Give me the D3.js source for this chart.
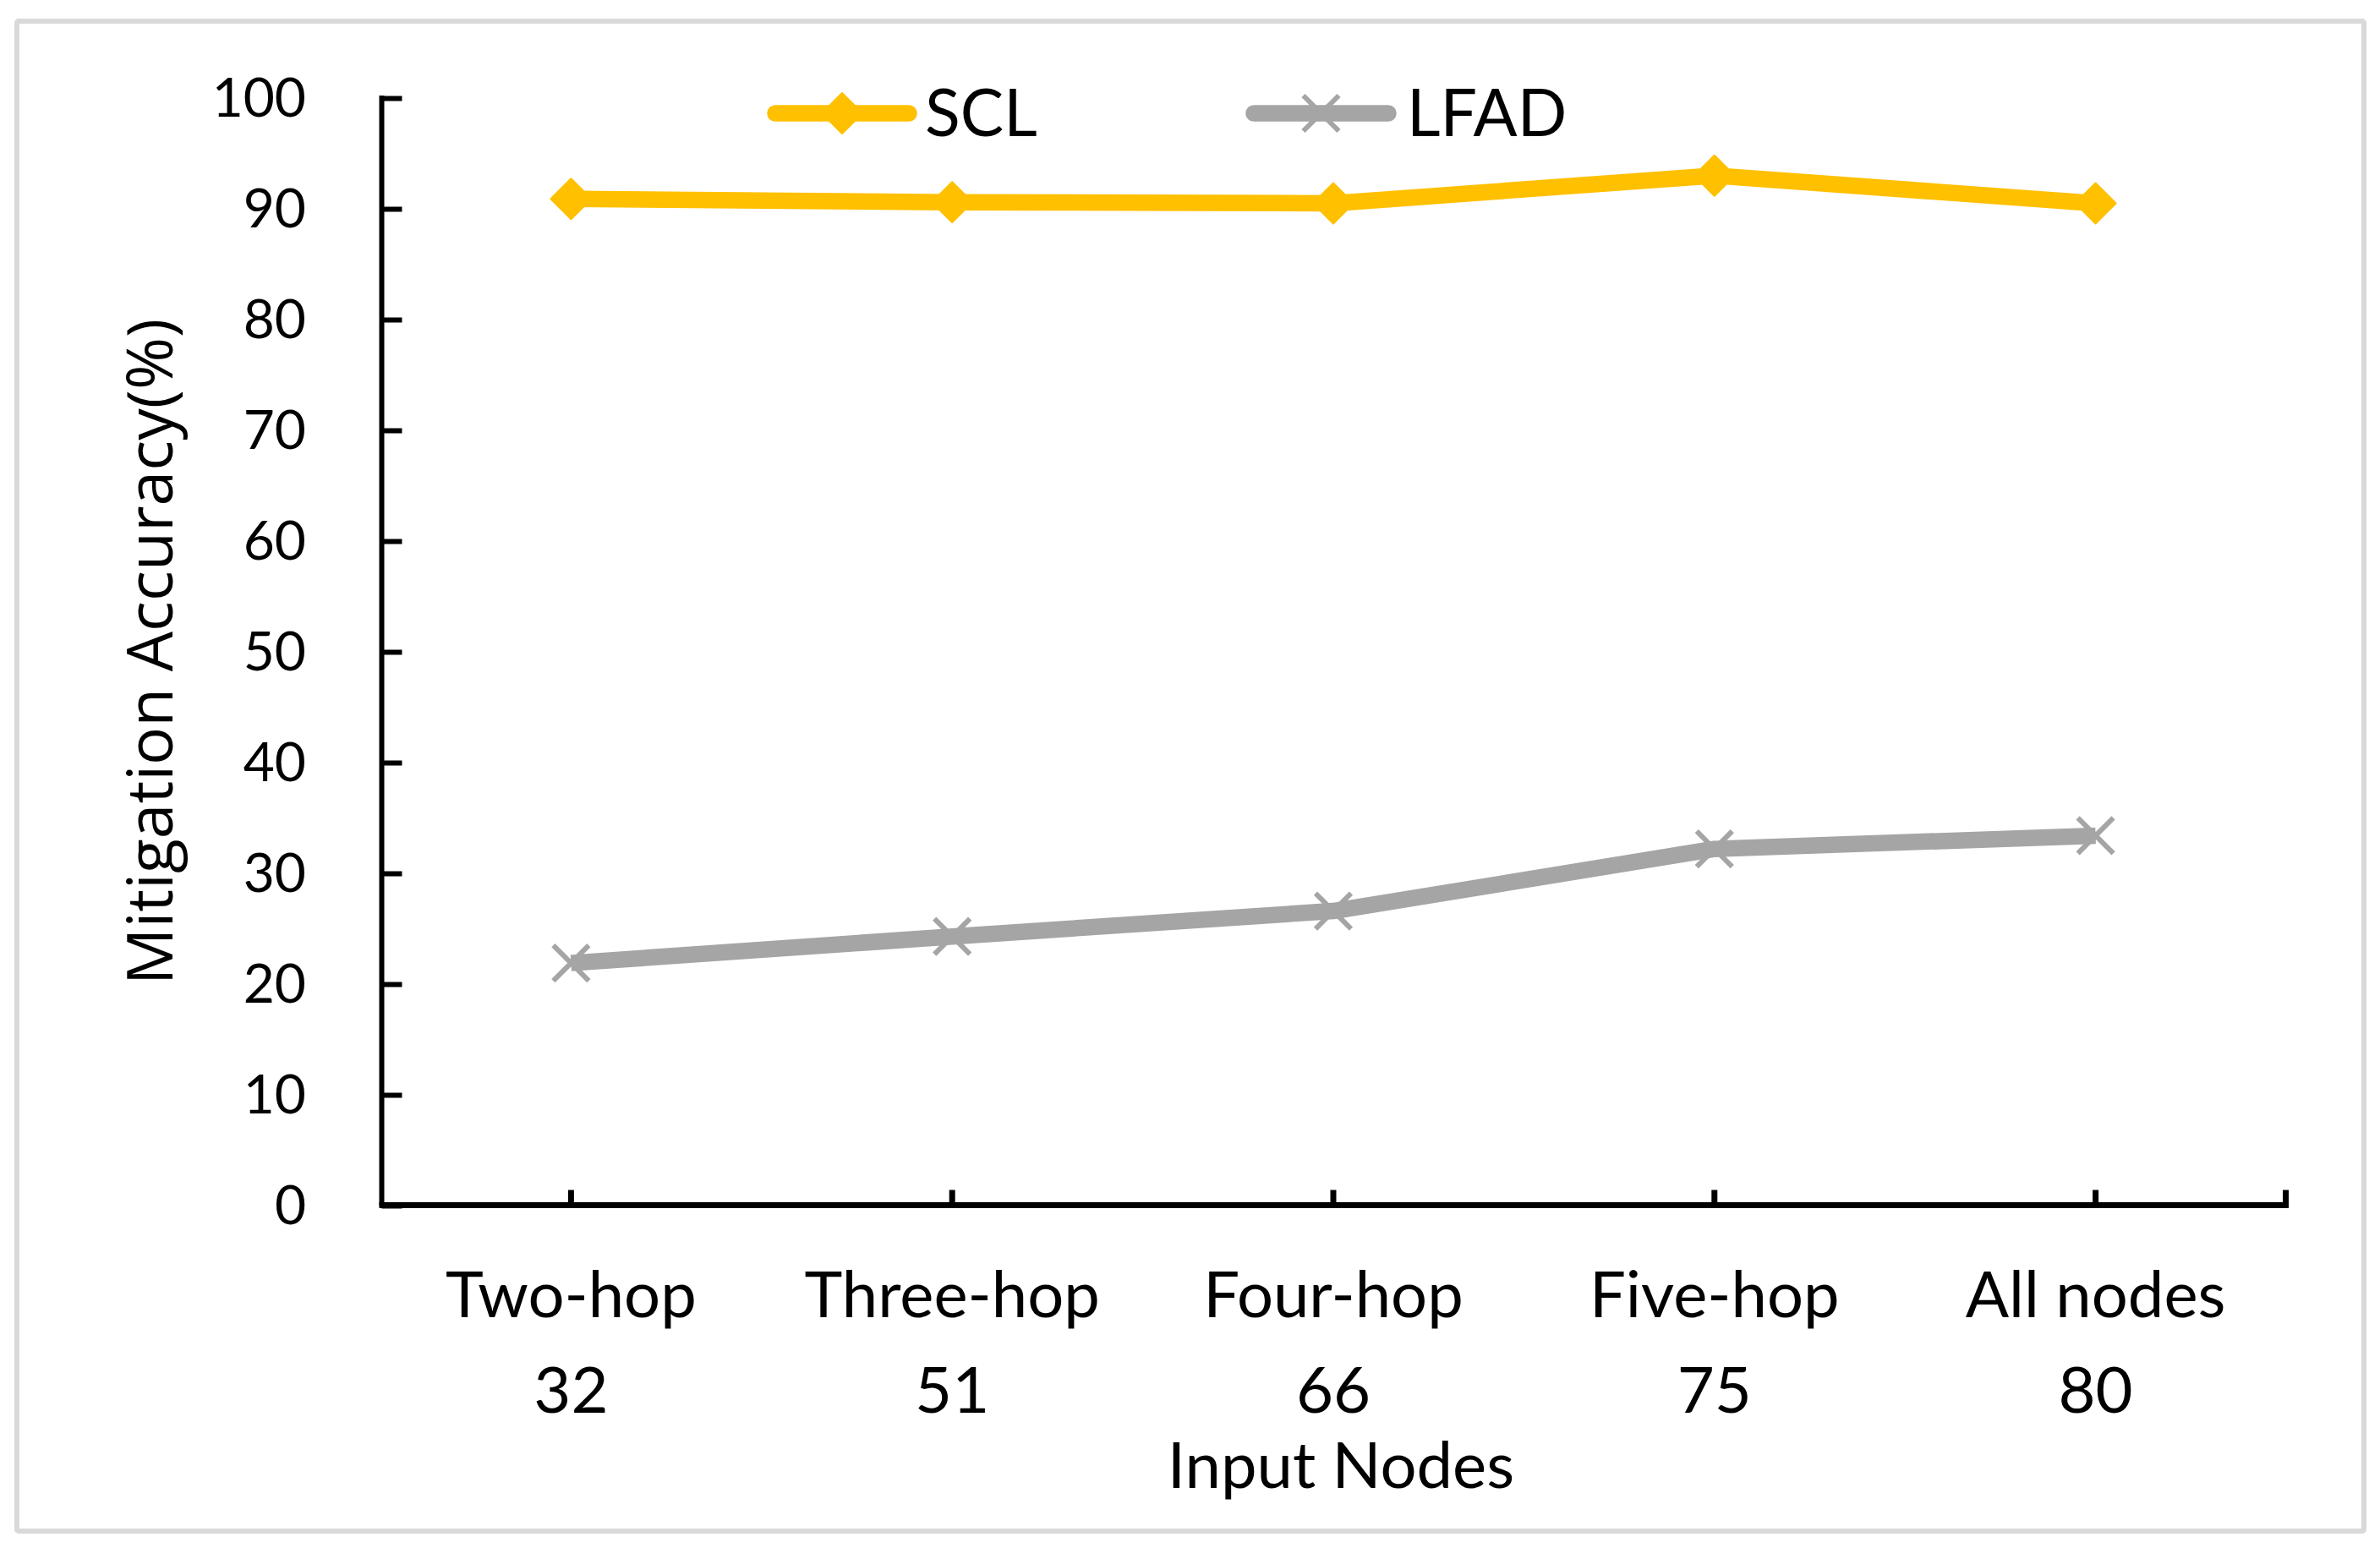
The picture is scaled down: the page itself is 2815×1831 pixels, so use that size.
<!DOCTYPE html>
<html>
<head>
<meta charset="utf-8">
<script src="https://cdn.jsdelivr.net/npm/d3@7"></script>
<style>
  html, body { margin: 0; padding: 0; background: #ffffff; }
  svg { display: block; }
</style>
</head>
<body>
<script>
// ---- data ----
const categories = ["Two-hop", "Three-hop", "Four-hop", "Five-hop", "All nodes"];
const nodeCounts = ["32", "51", "66", "75", "80"];
const sclValues = [90.9, 90.6, 90.5, 93.0, 90.5];
const lfadValues = [21.9, 24.3, 26.6, 32.2, 33.4];
const yTicks = [0, 10, 20, 30, 40, 50, 60, 70, 80, 90, 100];
const seriesNames = ["SCL", "LFAD"];
const xTitle = "Input Nodes";
const yTitle = "Mitigation Accuracy(%)";

const W = 2815, H = 1831;
const calib = "Lato, 'Open Sans', sans-serif";
const sclColor = "#FFC000", lfadColor = "#A5A5A5";

const svg = d3.select("body").append("svg").attr("width", W).attr("height", H);

// frame
svg.append("rect").attr("x", 20).attr("y", 25).attr("width", 2776).attr("height", 1786)
  .attr("fill", "#ffffff").attr("stroke", "#d9d9d9").attr("stroke-width", 6).attr("rx", 2);

const x = d3.scaleBand().domain(categories).range([450, 2704]);
const y = d3.scaleLinear().domain([0, 100]).range([1426, 116]);
const cx = d => x(d) + x.bandwidth() / 2;

// y axis
const yAxis = svg.append("g").attr("transform", "translate(451.5,0)")
  .call(d3.axisRight(y).tickValues(yTicks).tickSize(24).tickFormat(""));
yAxis.select(".domain").attr("stroke", "#000").attr("stroke-width", 6).attr("d", "M0,113V1426");
yAxis.selectAll(".tick line").attr("stroke", "#000").attr("stroke-width", 6);

svg.append("g").selectAll("text").data(yTicks).join("text")
  .attr("x", 362).attr("y", d => y(d)).attr("dy", "0.35em")
  .attr("text-anchor", "end").attr("font-family", calib).attr("font-size", 64)
  .attr("fill", "#000").text(d => d);

// x axis
const xAxis = svg.append("g").attr("transform", "translate(0,1425.5)")
  .call(d3.axisTop(x).tickSize(18).tickFormat(""));
xAxis.select(".domain").attr("stroke", "#000").attr("stroke-width", 7)
  .attr("d", "M448.5,0H2707");
xAxis.selectAll(".tick line").attr("stroke", "#000").attr("stroke-width", 7);
xAxis.append("line").attr("x1", 2703.5).attr("x2", 2703.5).attr("y1", 0).attr("y2", -18)
  .attr("stroke", "#000").attr("stroke-width", 7);

// category labels
svg.append("g").selectAll("text").data(categories).join("text")
  .attr("x", d => cx(d)).attr("y", 1558).attr("text-anchor", "middle")
  .attr("font-family", calib).attr("font-size", 76).attr("fill", "#000").text(d => d);
svg.append("g").selectAll("text").data(nodeCounts).join("text")
  .attr("x", (d, i) => cx(categories[i])).attr("y", 1671).attr("text-anchor", "middle")
  .attr("font-family", calib).attr("font-size", 76).attr("fill", "#000").text(d => d);

// axis titles
svg.append("text").attr("x", 1586).attr("y", 1760).attr("text-anchor", "middle")
  .attr("font-family", calib).attr("font-size", 76).attr("fill", "#000").text(xTitle);
svg.append("text").attr("transform", "translate(204,771) rotate(-90)")
  .attr("text-anchor", "middle").attr("font-family", "'Open Sans', sans-serif")
  .attr("font-size", 75).attr("fill", "#000").text(yTitle);

// lines
const line = d3.line().x(d => cx(d.c)).y(d => y(d.v));
const sclData = categories.map((c, i) => ({ c, v: sclValues[i] }));
const lfadData = categories.map((c, i) => ({ c, v: lfadValues[i] }));

const diamond = "M0,-24L24,0L0,24L-24,0Z";
const cross = "M-21,-21L21,21M21,-21L-21,21";

function drawSeries(data, color, kind) {
  svg.append("path").datum(data).attr("d", line).attr("fill", "none")
    .attr("stroke", color).attr("stroke-width", 19.5).attr("stroke-linejoin", "round");
  const g = svg.append("g");
  data.forEach(d => {
    if (kind === "diamond") {
      g.append("path").attr("d", diamond)
        .attr("transform", `translate(${cx(d.c)},${y(d.v)})`)
        .attr("fill", color).attr("stroke", color).attr("stroke-width", 2).attr("stroke-linejoin", "round");
    } else {
      g.append("path").attr("d", cross)
        .attr("transform", `translate(${cx(d.c)},${y(d.v)})`)
        .attr("fill", "none").attr("stroke", color).attr("stroke-width", 6);
    }
  });
}
drawSeries(sclData, sclColor, "diamond");
drawSeries(lfadData, lfadColor, "cross");

// legend
const legend = [
  { name: seriesNames[0], color: sclColor, kind: "diamond", x1: 917, x2: 1075, tx: 1094 },
  { name: seriesNames[1], color: lfadColor, kind: "cross", x1: 1483, x2: 1642, tx: 1664 }
];
legend.forEach(l => {
  const ly = 134;
  svg.append("line").attr("x1", l.x1).attr("x2", l.x2).attr("y1", ly).attr("y2", ly)
    .attr("stroke", l.color).attr("stroke-width", 19.5).attr("stroke-linecap", "round");
  const mx = (l.x1 + l.x2) / 2;
  if (l.kind === "diamond") {
    svg.append("path").attr("d", diamond).attr("transform", `translate(${mx},${ly})`)
      .attr("fill", l.color).attr("stroke", l.color).attr("stroke-width", 2).attr("stroke-linejoin", "round");
  } else {
    svg.append("path").attr("d", cross).attr("transform", `translate(${mx},${ly})`)
      .attr("fill", "none").attr("stroke", l.color).attr("stroke-width", 6);
  }
  svg.append("text").attr("x", l.tx).attr("y", 161).attr("font-family", calib)
    .attr("font-size", 77).attr("fill", "#000").text(l.name);
});
</script>
</body>
</html>
